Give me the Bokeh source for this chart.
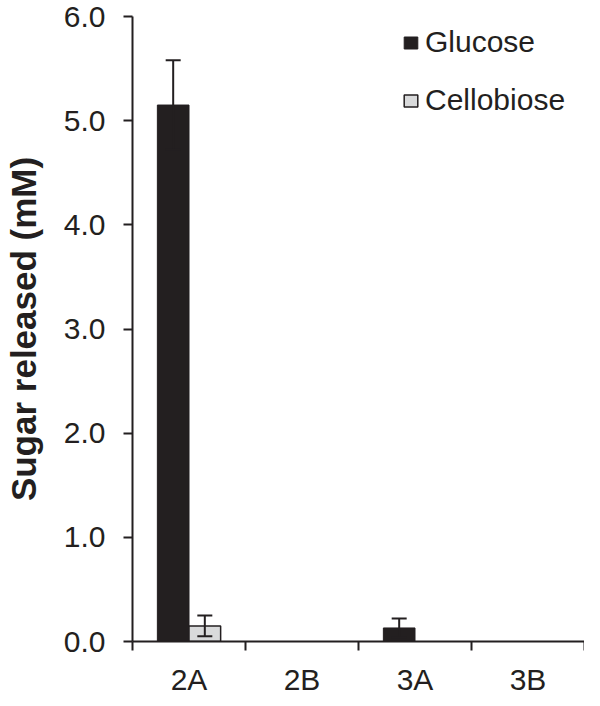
from bokeh.plotting import figure
from bokeh.models import (ColumnDataSource, Range1d, FixedTicker, NumeralTickFormatter,
                          Legend, LegendItem, Whisker, TeeHead)
from bokeh.embed import file_html
from bokeh.resources import INLINE

# ---- data ----
categories = ["2A", "2B", "3A", "3B"]
glucose = [5.15, 0.0, 0.13, 0.0]
glucose_err = [0.43, 0.0, 0.09, 0.0]
cellobiose = [0.15, 0.0, 0.0, 0.0]
cellobiose_err = [0.10, 0.0, 0.0, 0.0]
y_ticks = [0, 1, 2, 3, 4, 5, 6]

INK = "#231f20"
GRAY = "#d9dadb"
FONT = "Liberation Sans"
BAR_W = 0.28
OFF = 0.14

p = figure(width=584, height=698, output_backend="svg", toolbar_location=None,
           x_range=Range1d(0, len(categories)), y_range=Range1d(0, 6),
           min_border_left=124, min_border_right=0, min_border_top=16, min_border_bottom=53)
p.outline_line_color = None
p.xgrid.visible = False
p.ygrid.visible = False
p.background_fill_color = "white"
p.border_fill_color = "white"


def series_source(vals, errs, offset):
    xs, ys, lo, hi = [], [], [], []
    for i, (v, e) in enumerate(zip(vals, errs)):
        if v > 0:
            xs.append(i + 0.5 + offset)
            ys.append(v)
            lo.append(v - e)
            hi.append(v + e)
    return ColumnDataSource(dict(x=xs, top=ys, lower=lo, upper=hi))


src_g = series_source(glucose, glucose_err, -OFF)
src_c = series_source(cellobiose, cellobiose_err, OFF)

r_g = p.vbar(x="x", top="top", width=BAR_W, source=src_g, fill_color=INK, line_color=INK, line_width=1)
r_c = p.vbar(x="x", top="top", width=BAR_W, source=src_c, fill_color=GRAY, line_color=INK, line_width=1.5)

for src in (src_g, src_c):
    w = Whisker(base="x", lower="lower", upper="upper", source=src, level="overlay",
                line_color=INK, line_width=2,
                upper_head=TeeHead(size=15, line_color=INK, line_width=2),
                lower_head=TeeHead(size=15, line_color=INK, line_width=2))
    p.add_layout(w)

# y axis
ya = p.yaxis[0]
ya.ticker = FixedTicker(ticks=y_ticks)
ya.formatter = NumeralTickFormatter(format="0.0")
ya.axis_label = "Sugar released (mM)"
ya.axis_label_text_font = FONT
ya.axis_label_text_font_style = "bold"
ya.axis_label_text_font_size = "35px"
ya.axis_label_text_color = INK
ya.axis_label_standoff = 18
ya.major_label_text_font = FONT
ya.major_label_text_font_size = "30px"
ya.major_label_text_color = INK
ya.major_label_standoff = 18
ya.major_tick_out = 9
ya.major_tick_in = 0
ya.major_tick_line_color = INK
ya.major_tick_line_width = 2
ya.minor_tick_line_color = None
ya.axis_line_color = INK
ya.axis_line_width = 2

# x axis: labels at category centres, ticks at category boundaries
xa = p.xaxis[0]
xa.ticker = FixedTicker(ticks=[i + 0.5 for i in range(len(categories))],
                        minor_ticks=list(range(len(categories) + 1)))
xa.major_label_overrides = {i + 0.5: c for i, c in enumerate(categories)}
xa.major_label_text_font = FONT
xa.major_label_text_font_size = "30px"
xa.major_label_text_color = INK
xa.major_label_standoff = 12
xa.major_tick_out = 0
xa.major_tick_in = 0
xa.minor_tick_out = 9
xa.minor_tick_in = 0
xa.minor_tick_line_color = INK
xa.minor_tick_line_width = 2
xa.axis_line_color = INK
xa.axis_line_width = 2

legend = Legend(items=[LegendItem(label="Glucose", renderers=[r_g]),
                       LegendItem(label="Cellobiose", renderers=[r_c])],
                location=(270, 524), padding=0, margin=0, spacing=24,
                glyph_width=17, glyph_height=15, label_standoff=6,
                label_text_font=FONT, label_text_font_size="30px", label_text_color=INK,
                border_line_color=None, background_fill_alpha=0)
p.add_layout(legend)

open("out.html", "w").write(file_html(p, INLINE))
